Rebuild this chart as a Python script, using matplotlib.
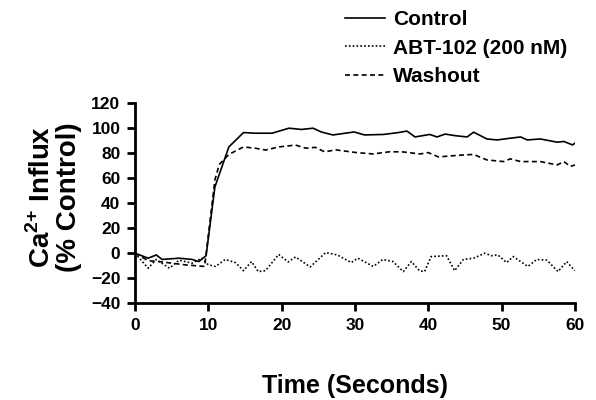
import matplotlib
matplotlib.use("Agg")
import matplotlib.pyplot as plt

plt.rcParams["font.family"] = ["Liberation Sans", "DejaVu Sans"]
plt.rcParams["font.weight"] = "bold"
plt.rcParams["mathtext.fontset"] = "custom"
plt.rcParams["mathtext.rm"] = "Liberation Sans:bold"
plt.rcParams["mathtext.bf"] = "Liberation Sans:bold"

# Control trace
control_t = [0, 1.8, 2.9, 3.7, 6, 7.8, 8.7, 9.7, 10.9, 12.8, 14.8, 16.4, 18.7,
             21, 22.7, 24.3, 25.4, 27, 29.9, 31.3, 33.9, 35.8, 37.1, 38.2, 40.2,
             41.2, 42.3, 43.7, 45.3, 46.2, 48, 49.4, 51.2, 52.6, 53.5, 55.3,
             57.6, 58.5, 59.7, 60]
control_y = [0, -4, -1.4, -5, -4, -5, -6.7, -2, 53, 85, 96.5, 96, 96,
             100, 99, 100, 97, 94.6, 97, 94.6, 95, 96.4, 97.7, 93, 95,
             93, 95.3, 94, 93, 96.8, 91.4, 90.6, 92, 93, 90.6, 91.4,
             88.8, 89.4, 86.6, 88]

# ABT-102 (200 nM) trace
abt_t = [0, 1.8, 2.9, 4.7, 6, 7.8, 9.1, 10, 11, 12.3, 13.7, 14.8, 15.9, 16.8,
         17.8, 19.6, 20.9, 21.9, 23.9, 26, 27.6, 29.5, 30.4, 32.5, 33.8, 35.2,
         36.6, 37.7, 38.8, 39.5, 40.4, 42.5, 43.6, 44.8, 46.2, 47.7, 48.6,
         49.5, 50.7, 51.6, 53.6, 54.8, 56.2, 57.7, 58.9, 59.8, 60]
abt_y = [0, -12, -5, -12, -5.6, -8, -4, -9.3, -10.6, -5, -7.5, -14, -6.7, -14.7,
         -14, -1, -7, -3, -11, 0.5, -1.4, -7.5, -4, -10.6, -5, -6.7,
         -14.7, -6.7, -14, -14.7, -2.7, -2, -14, -5, -4, 0, -2,
         -1.4, -7.5, -2.7, -10.6, -5, -5.6, -14.7, -6.7, -12.8, -14]

# Washout trace
wash_t = [0, 1.8, 3.7, 6.8, 9.5, 10.9, 11.5, 12.8, 14.8, 16.4, 17.8, 19.6,
          21.9, 23.3, 24.6, 25.9, 27.3, 30.2, 32.5, 34.8, 36.6, 38.9, 40,
          41.4, 43, 44.8, 46.2, 48, 50.3, 51.2, 52.6, 55.3, 57.6, 58.5,
          59.4, 60]
wash_y = [0, -6, -7, -9.3, -10.6, 58.6, 71, 79, 85, 84, 82.5, 85,
          86.5, 84, 84.7, 81, 82.7, 80.5, 79.4, 81.2, 81, 79.4, 80.5,
          77, 77.8, 78.6, 79, 74.6, 73.3, 75.5, 73.3, 73.3, 70.6, 73.3,
          69.4, 70.6]

x_ticks = [0, 10, 20, 30, 40, 50, 60]
y_ticks = [-40, -20, 0, 20, 40, 60, 80, 100, 120]

fig = plt.figure(figsize=(5.96, 4.0), dpi=100)
ax = fig.add_axes([0.2265, 0.242, 0.738, 0.5])

ax.plot(control_t, control_y, color="black", linewidth=1.2, linestyle="-",
        label="Control")
ax.plot(abt_t, abt_y, color="black", linewidth=1.2, linestyle=(0, (1, 1.3)),
        label="ABT-102 (200 nM)")
ax.plot(wash_t, wash_y, color="black", linewidth=1.2, linestyle=(0, (3, 2)),
        label="Washout")

ax.set_xlim(0, 60)
ax.set_ylim(-40, 120)
ax.set_xticks(x_ticks)
ax.set_yticks(y_ticks)
ax.spines["top"].set_visible(False)
ax.spines["right"].set_visible(False)
ax.spines["left"].set_linewidth(2)
ax.spines["bottom"].set_linewidth(2)
ax.tick_params(direction="out", length=5.5, width=2, labelsize=12.5, pad=5)
for lbl in ax.get_xticklabels() + ax.get_yticklabels():
    lbl.set_fontweight("bold")

ax.set_xlabel("Time (Seconds)", fontsize=18, fontweight="bold")
ax.xaxis.set_label_coords(0.5, -0.355)
ax.set_ylabel("Ca$^{\\mathbf{2{+}}}$ Influx\n(% Control)", fontsize=20,
              fontweight="bold", linespacing=1.0)
ax.yaxis.set_label_coords(-0.12, 0.53)

leg = ax.legend(loc="upper left", bbox_to_anchor=(0.579, 0.974),
                bbox_transform=fig.transFigure, frameon=False,
                fontsize=15, handlelength=1.92, handletextpad=0.38,
                labelspacing=0.45, borderaxespad=0, borderpad=0)
for t in leg.get_texts():
    t.set_fontweight("bold")

fig.savefig("out.png", dpi=100)
